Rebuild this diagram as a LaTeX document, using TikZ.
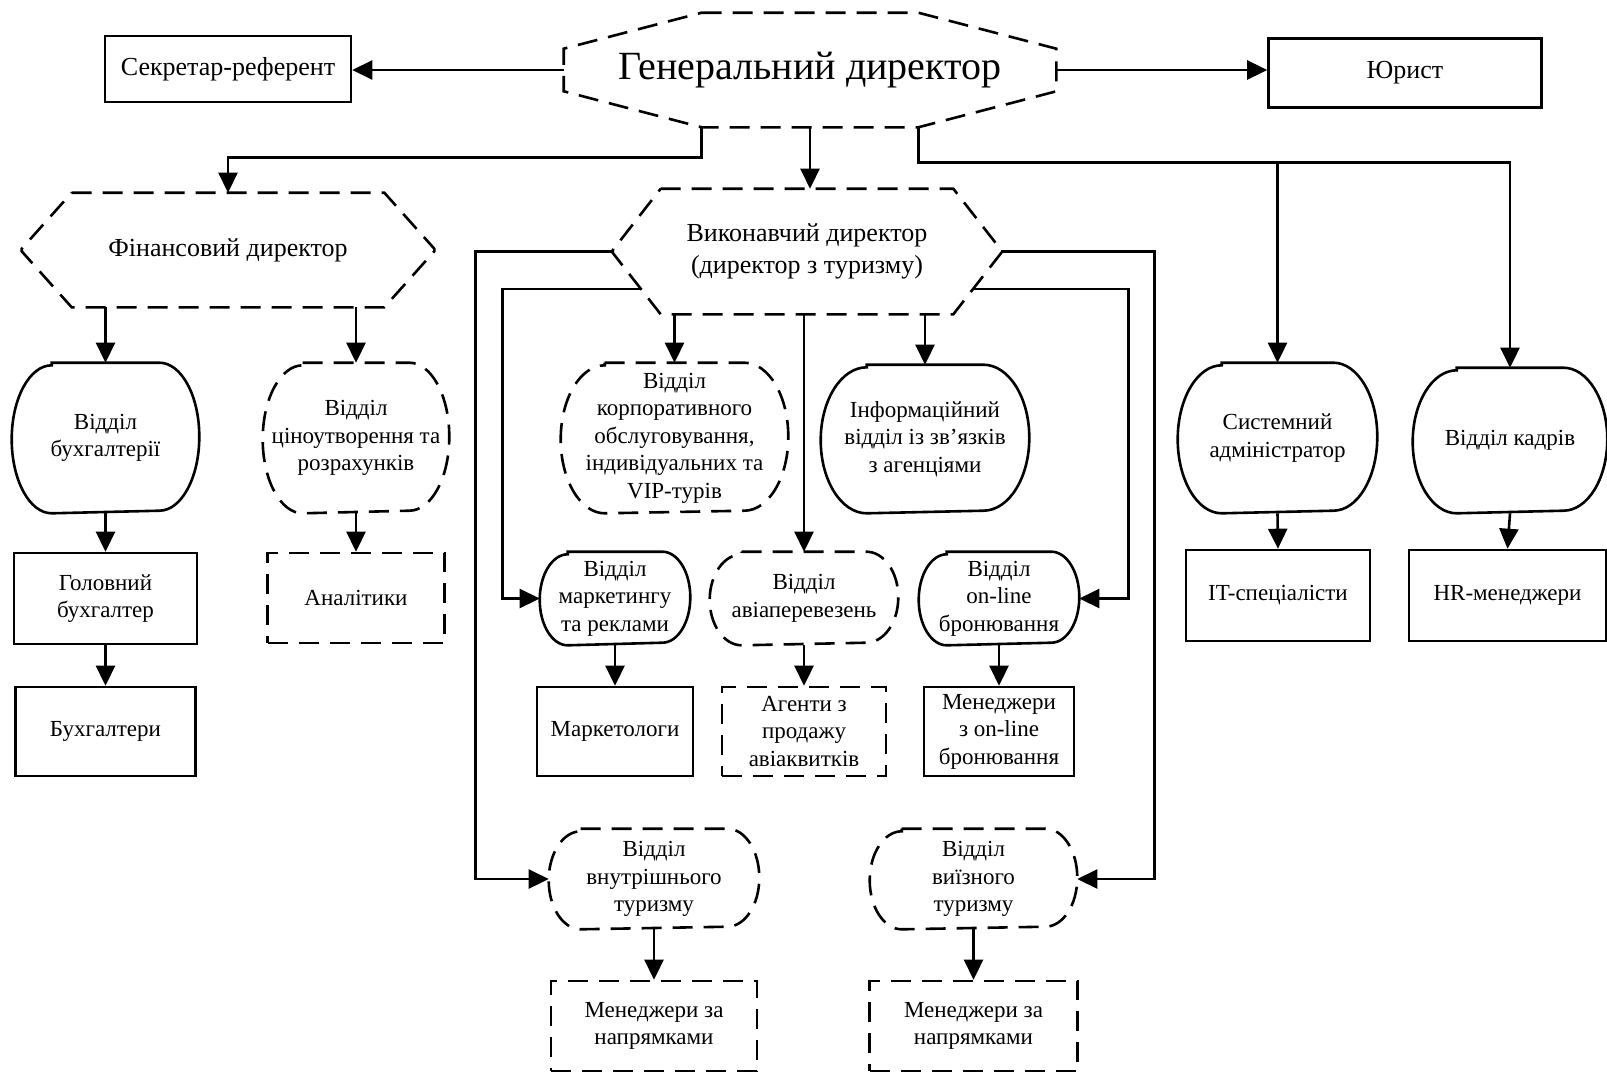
\documentclass[tikz,border=0pt]{standalone}
\usepackage{fontspec}
\setmainfont{Liberation Serif}
\usetikzlibrary{positioning, calc, arrows.meta}

% octagon / hexagon drawn round a node: node, x cut, y cut
\newcommand{\dircut}[4][]{%
  \draw[#1] ($(#2.north west)+(#3,0)$) -- ($(#2.north east)+(-#3,0)$)
    -- ($(#2.north east)+(0,#4)$) -- ($(#2.south east)+(0,-#4)$)
    -- ($(#2.south east)+(-#3,0)$) -- ($(#2.south west)+(#3,0)$)
    -- ($(#2.south west)+(0,-#4)$) -- ($(#2.north west)+(0,#4)$) -- cycle;}
% box with half-ellipse sides: node, x radius, y radius
\newcommand{\deptoval}[4][]{%
  \draw[#1] ($(#2.north west)+(#3,0)$) -- ($(#2.north east)+(-#3,0)$)
    arc[start angle=90, end angle=-90, x radius=#3pt, y radius=#4pt]
    -- ($(#2.south west)+(#3,0)$)
    arc[start angle=270, end angle=90, x radius=#3pt, y radius=#4pt] -- cycle;}

\begin{document}
\begin{tikzpicture}[x=1pt, y=-1pt, line width=2.6pt,
    txt/.style={font=\fontsize{23}{27.5}\selectfont, align=center, inner sep=0pt},
    dashln/.style={dash pattern=on 20pt off 11pt},
    slot/.style 2 args={txt, minimum width=#1pt, minimum height=#2pt},
    rbox/.style 2 args={slot={#1}{#2}, draw},
    dbox/.style 2 args={rbox={#1}{#2}, dashln},
    arr/.style={-{Triangle[length=20pt,width=19pt]}}]

    \useasboundingbox (0,0) rectangle (1607,1076);

    % --- Top level ---
    \node[slot={490}{112}, font=\fontsize{40}{46}\selectfont] (gen) at (810,70) {Генеральний директор};
    \dircut[dashln]{gen}{138}{36}
    \node[rbox={246}{66}, font=\fontsize{26}{30}\selectfont] (sec) at (228,69) {Секретар-референт};
    \node[rbox={273}{69}, font=\fontsize{26}{30}\selectfont] (jur) at (1405,73) {Юрист};

    \draw[arr] (gen.west) -- (gen.west -| sec.east);
    \draw[arr] (gen.east) -- (gen.east -| jur.west);

    % --- Directors ---
    \node[slot={410}{112}, font=\fontsize{26}{31}\selectfont] (fin) at (228,250) {Фінансовий директор};
    \dircut[dashln]{fin}{50}{56}
    \node[slot={386}{123}, font=\fontsize{26}{32}\selectfont] (exec) at (807,251.5) {Виконавчий директор\\(директор з туризму)};
    \dircut[dashln]{exec}{48}{61.5}

    % --- Finance branch ---
    \node[slot={185}{148}] (buh) at (105.5,438) {Відділ\\бухгалтерії};
    \deptoval{buh}{40}{74}
    \node[slot={184}{148}] (price) at (356,438) {Відділ\\ціноутворення та\\розрахунків};
    \deptoval[dashln]{price}{40}{74}
    \node[rbox={183}{91}] (gbuh) at (105.5,598.5) {Головний\\бухгалтер};
    \node[rbox={180}{89}] (buhs) at (105.5,731.5) {Бухгалтери};
    \node[dbox={177}{90}] (anal) at (356,598) {Аналітики};

    % --- Tourism branch ---
    \node[slot={225}{148}] (corp) at (674.5,438) {Відділ\\корпоративного\\обслуговування,\\індивідуальних та\\VIP-турів};
    \deptoval[dashln]{corp}{44}{74}
    \node[slot={206}{146}] (info) at (925,439) {Інформаційний\\відділ із зв’язків\\з агенціями};
    \deptoval{info}{46}{73}
    \node[slot={148}{91}] (mkt) at (615,598.5) {Відділ\\маркетингу\\та реклами};
    \deptoval{mkt}{28}{45.5}
    \node[slot={186}{91}] (avia) at (804,598.5) {Відділ\\авіаперевезень};
    \deptoval[dashln]{avia}{32}{45.5}
    \node[slot={158}{91}] (onl) at (999,598.5) {Відділ\\on-line\\бронювання};
    \deptoval{onl}{28}{45.5}
    \node[rbox={156}{89}] (mktl) at (615,731.5) {Маркетологи};
    \node[dbox={164}{89}] (agent) at (804,731.5) {Агенти з\\продажу\\авіаквитків};
    \node[rbox={150}{89}] (monl) at (999,731.5) {Менеджери\\з on-line\\бронювання};
    \node[slot={208}{98}] (dom) at (654,879) {Відділ\\внутрішнього\\туризму};
    \deptoval[dashln]{dom}{32}{49}
    \node[slot={205}{98}] (outb) at (973.5,879) {Відділ\\виїзного\\туризму};
    \deptoval[dashln]{outb}{32}{49}
    \node[dbox={206}{90}] (mdom) at (654,1026) {Менеджери за\\напрямками};
    \node[dbox={208}{90}] (mout) at (973.5,1026) {Менеджери за\\напрямками};

    % --- Staff branch ---
    \node[slot={197}{148}] (sys) at (1277.5,438) {Системний\\адміністратор};
    \deptoval{sys}{44}{74}
    \node[slot={192}{143}] (hr) at (1510,440.5) {Відділ кадрів};
    \deptoval{hr}{44}{71.5}
    \node[rbox={184}{91}] (it) at (1278,595.5) {IT-спеціалісти};
    \node[rbox={197}{91}] (hrm) at (1507.5,595.5) {HR-менеджери};

    % --- From the general director ---
    \coordinate (gsw) at ($(gen.south west)+(138,0)$);
    \coordinate (gse) at ($(gen.south east)+(-138,0)$);
    \coordinate (gturn) at ($(gse)+(0,35)$);
    \draw[arr] (gsw) |- ($(fin.north)+(0,-35)$) -- (fin.north);
    \draw[arr] (gen.south) -- (gen.south |- exec.north);
    \draw[arr] (gse) -- (gturn) -| (hr.north);
    \draw[arr] (gturn -| sys.north) -- (sys.north);

    % --- From the financial director ---
    \draw[arr] (fin.south -| buh.north) -- (buh.north);
    \draw[arr] (fin.south -| price.north) -- (price.north);
    \draw[arr] (buh.south) -- (gbuh.north);
    \draw[arr] (gbuh.south) -- (buhs.north);
    \draw[arr] (price.south) -- (anal.north);

    % --- From the executive director ---
    \coordinate (exsw) at ($(exec.south west)+(48,0)$);
    \coordinate (exse) at ($(exec.south east)+(-48,0)$);
    \coordinate (exl) at ($(exec.west)!0.6!(exsw)$);
    \coordinate (exr) at ($(exec.east)!0.6!(exse)$);
    \draw[arr] (exec.west) -| ($(dom.west)+(-73,0)$) -- (dom.west);
    \draw[arr] (exl) -| ($(mkt.west)+(-37,0)$) -- (mkt.west);
    \draw[arr] (exec.east) -| ($(outb.east)+(77,0)$) -- (outb.east);
    \draw[arr] (exr) -| ($(onl.east)+(49,0)$) -- (onl.east);
    \draw[arr] (exec.south -| corp.north) -- (corp.north);
    \draw[arr] (exec.south -| avia.north) -- (avia.north);
    \draw[arr] (exec.south -| info.north) -- (info.north);

    % --- Departments to staff ---
    \draw[arr] (mkt.south) -- (mktl.north);
    \draw[arr] (avia.south) -- (agent.north);
    \draw[arr] (onl.south) -- (monl.north);
    \draw[arr] (dom.south) -- (mdom.north);
    \draw[arr] (outb.south) -- (mout.north);
    \draw[arr] (sys.south) -- (it.north);
    \draw[arr] (hr.south) -- (hrm.north);

\end{tikzpicture}
\end{document}
